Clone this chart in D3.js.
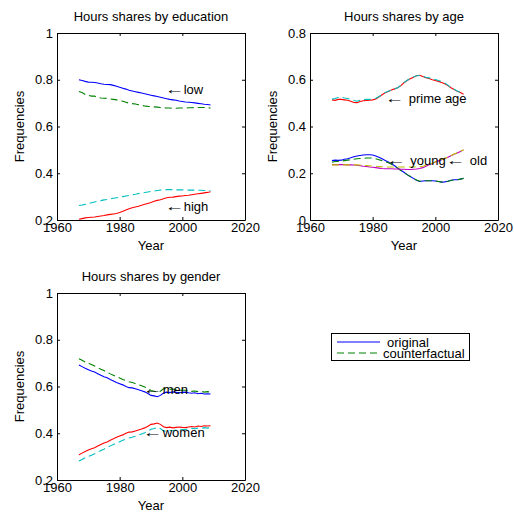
<!DOCTYPE html>
<html>
<head>
<meta charset="utf-8">
<script src="https://cdn.jsdelivr.net/npm/d3@7"></script>
<style>
  body { margin: 0; background: #fff; }
  text { font-family: "Liberation Sans", Arial, Helvetica, sans-serif; }
</style>
</head>
<body>
<svg id="fig" width="514" height="521"></svg>
<script>
// ---- data ----
const years = [1967, 1968, 1969, 1970, 1971, 1972, 1973, 1974, 1975, 1976, 1977,
  1978, 1979, 1980, 1981, 1982, 1983, 1984, 1985, 1986, 1987, 1988, 1989, 1990,
  1991, 1992, 1993, 1994, 1995, 1996, 1997, 1998, 1999, 2000, 2001, 2002, 2003,
  2004, 2005, 2006, 2007, 2008, 2009];

const xTicks = [1960, 1980, 2000, 2020];
const yTicksShare = [0.2, 0.4, 0.6, 0.8, 1];
const yTicksAge = [0, 0.2, 0.4, 0.6, 0.8];

// education
const lowOrig = [0.800, 0.797, 0.793, 0.790, 0.789, 0.788, 0.786, 0.783, 0.781, 0.780, 0.779,
  0.776, 0.772, 0.768, 0.764, 0.760, 0.755, 0.752, 0.749, 0.746, 0.743, 0.740, 0.737, 0.734,
  0.731, 0.728, 0.725, 0.722, 0.719, 0.716, 0.714, 0.712, 0.709, 0.707, 0.705, 0.704, 0.703,
  0.701, 0.699, 0.697, 0.695, 0.694, 0.692];
const lowCf = [0.750, 0.745, 0.737, 0.733, 0.730, 0.730, 0.724, 0.722, 0.721, 0.720, 0.718,
  0.716, 0.714, 0.711, 0.708, 0.704, 0.700, 0.698, 0.696, 0.693, 0.690, 0.688, 0.686, 0.685,
  0.684, 0.683, 0.681, 0.680, 0.679, 0.679, 0.678, 0.678, 0.679, 0.679, 0.679, 0.680, 0.680,
  0.681, 0.681, 0.681, 0.681, 0.680, 0.679];
const highOrig = [0.203, 0.206, 0.209, 0.211, 0.212, 0.213, 0.215, 0.217, 0.219, 0.222, 0.224,
  0.226, 0.228, 0.232, 0.237, 0.243, 0.248, 0.252, 0.256, 0.259, 0.263, 0.267, 0.271, 0.275,
  0.280, 0.284, 0.287, 0.291, 0.295, 0.297, 0.298, 0.300, 0.302, 0.303, 0.305, 0.306, 0.308,
  0.310, 0.312, 0.314, 0.316, 0.318, 0.321];
const highCf = [0.262, 0.264, 0.267, 0.270, 0.274, 0.277, 0.280, 0.283, 0.286, 0.288, 0.291,
  0.293, 0.295, 0.297, 0.300, 0.303, 0.305, 0.308, 0.310, 0.313, 0.315, 0.318, 0.320, 0.322,
  0.324, 0.326, 0.328, 0.329, 0.330, 0.330, 0.330, 0.329, 0.329, 0.329, 0.329, 0.328, 0.328,
  0.328, 0.327, 0.327, 0.326, 0.326, 0.325];

// age
const youngOrig = [0.254, 0.256, 0.255, 0.256, 0.260, 0.262, 0.266, 0.271, 0.274, 0.276, 0.278,
  0.279, 0.279, 0.278, 0.274, 0.268, 0.262, 0.255, 0.248, 0.240, 0.232, 0.222, 0.213, 0.204,
  0.194, 0.186, 0.178, 0.170, 0.165, 0.167, 0.168, 0.168, 0.168, 0.167, 0.165, 0.162, 0.163,
  0.166, 0.170, 0.172, 0.172, 0.175, 0.179];
const youngCf = [0.247, 0.250, 0.251, 0.252, 0.254, 0.256, 0.258, 0.260, 0.262, 0.263, 0.264,
  0.265, 0.265, 0.265, 0.262, 0.258, 0.254, 0.250, 0.245, 0.238, 0.230, 0.221, 0.212, 0.203,
  0.194, 0.186, 0.178, 0.171, 0.166, 0.167, 0.168, 0.168, 0.168, 0.167, 0.165, 0.162, 0.163,
  0.166, 0.169, 0.172, 0.172, 0.175, 0.178];
const primeOrig = [0.514, 0.512, 0.516, 0.516, 0.514, 0.512, 0.508, 0.503, 0.502, 0.507, 0.510,
  0.511, 0.512, 0.514, 0.518, 0.526, 0.536, 0.544, 0.550, 0.556, 0.561, 0.566, 0.575, 0.587,
  0.597, 0.604, 0.611, 0.617, 0.619, 0.614, 0.609, 0.605, 0.600, 0.597, 0.593, 0.588, 0.583,
  0.575, 0.566, 0.558, 0.551, 0.545, 0.538];
const primeCf = [0.517, 0.520, 0.524, 0.525, 0.522, 0.520, 0.516, 0.511, 0.508, 0.512, 0.515,
  0.516, 0.516, 0.518, 0.521, 0.528, 0.537, 0.545, 0.551, 0.556, 0.561, 0.566, 0.576, 0.588,
  0.598, 0.605, 0.612, 0.617, 0.618, 0.615, 0.611, 0.608, 0.604, 0.601, 0.597, 0.592, 0.586,
  0.577, 0.567, 0.559, 0.552, 0.545, 0.538];
const oldOrig = [0.237, 0.237, 0.237, 0.237, 0.237, 0.236, 0.236, 0.235, 0.234, 0.232, 0.230,
  0.229, 0.227, 0.226, 0.224, 0.222, 0.220, 0.219, 0.219, 0.219, 0.218, 0.218, 0.217, 0.217,
  0.216, 0.216, 0.217, 0.218, 0.220, 0.224, 0.230, 0.236, 0.242, 0.248, 0.253, 0.258, 0.263,
  0.268, 0.275, 0.281, 0.287, 0.293, 0.300];
const oldCf = [0.236, 0.236, 0.236, 0.236, 0.236, 0.236, 0.236, 0.236, 0.236, 0.235, 0.234,
  0.233, 0.232, 0.231, 0.230, 0.229, 0.228, 0.227, 0.227, 0.227, 0.227, 0.227, 0.227, 0.227,
  0.227, 0.227, 0.227, 0.227, 0.228, 0.230, 0.234, 0.238, 0.243, 0.249, 0.254, 0.259, 0.264,
  0.269, 0.276, 0.282, 0.288, 0.294, 0.300];

// gender
const menOrig = [0.692, 0.685, 0.678, 0.672, 0.666, 0.662, 0.655, 0.648, 0.642, 0.637, 0.630,
  0.624, 0.617, 0.612, 0.607, 0.600, 0.595, 0.594, 0.590, 0.586, 0.582, 0.577, 0.570, 0.562,
  0.560, 0.556, 0.562, 0.572, 0.576, 0.574, 0.577, 0.575, 0.573, 0.575, 0.576, 0.573, 0.571,
  0.573, 0.569, 0.571, 0.568, 0.569, 0.568];
const menCf = [0.719, 0.712, 0.705, 0.699, 0.694, 0.688, 0.681, 0.674, 0.668, 0.661, 0.654,
  0.648, 0.642, 0.636, 0.630, 0.625, 0.620, 0.617, 0.613, 0.608, 0.603, 0.598, 0.591, 0.583,
  0.580, 0.575, 0.580, 0.590, 0.592, 0.588, 0.589, 0.586, 0.583, 0.584, 0.584, 0.581, 0.579,
  0.581, 0.578, 0.579, 0.576, 0.578, 0.576];
const womenOrig = [0.308, 0.315, 0.322, 0.328, 0.334, 0.338, 0.345, 0.352, 0.358, 0.363, 0.370,
  0.376, 0.383, 0.388, 0.393, 0.400, 0.405, 0.406, 0.410, 0.414, 0.418, 0.423, 0.430, 0.438,
  0.440, 0.444, 0.438, 0.428, 0.424, 0.426, 0.423, 0.425, 0.427, 0.425, 0.424, 0.427, 0.429,
  0.427, 0.431, 0.429, 0.432, 0.431, 0.432];
const womenCf = [0.281, 0.288, 0.295, 0.301, 0.306, 0.312, 0.319, 0.326, 0.332, 0.339, 0.346,
  0.352, 0.358, 0.364, 0.370, 0.375, 0.380, 0.383, 0.387, 0.392, 0.397, 0.402, 0.409, 0.417,
  0.420, 0.425, 0.420, 0.410, 0.408, 0.412, 0.411, 0.414, 0.417, 0.416, 0.416, 0.419, 0.421,
  0.419, 0.422, 0.421, 0.424, 0.422, 0.424];

// annotation labels placed in data coordinates: [text, year, value]
const eduNotes = [["low", 1995, 0.757], ["high", 1995, 0.257]];
const ageNotes = [["prime age", 1984.5, 0.519], ["young", 1985, 0.254], ["old", 2004, 0.254]];
const genderNotes = [["men", 1988, 0.586], ["women", 1988, 0.403]];

const legendLabels = ["original", "counterfactual"];

// ---- styling ----
const C = {
  blue: "#0000ff", green: "#008000", red: "#ff0000",
  cyan: "#00bfbf", magenta: "#bf00bf", yellow: "#bfbf00"
};
const FONT = 13;

const panels = [
  {
    title: "Hours shares by education", box: [57, 33, 188, 187],
    yDomain: [0.2, 1], yTicks: yTicksShare, noteGap: 17, notes: eduNotes,
    series: [
      { v: lowOrig, c: C.blue }, { v: lowCf, c: C.green, dash: true },
      { v: highOrig, c: C.red }, { v: highCf, c: C.cyan, dash: true }
    ]
  },
  {
    title: "Hours shares by age", box: [310, 33, 188, 187],
    yDomain: [0, 0.8], yTicks: yTicksAge, noteGap: 22, notes: ageNotes,
    series: [
      { v: youngOrig, c: C.blue }, { v: youngCf, c: C.green, dash: true },
      { v: primeOrig, c: C.red }, { v: primeCf, c: C.cyan, dash: true },
      { v: oldOrig, c: C.magenta }, { v: oldCf, c: C.yellow, dash: true }
    ]
  },
  {
    title: "Hours shares by gender", box: [57, 293, 188, 187],
    yDomain: [0.2, 1], yTicks: yTicksShare, noteGap: 18, notes: genderNotes,
    series: [
      { v: menOrig, c: C.blue }, { v: menCf, c: C.green, dash: true },
      { v: womenOrig, c: C.red }, { v: womenCf, c: C.cyan, dash: true }
    ]
  }
];

const svg = d3.select("#fig");
svg.append("rect").attr("width", 514).attr("height", 521).attr("fill", "#fff");

panels.forEach(p => {
  const [left, top, w, h] = p.box;
  const x = d3.scaleLinear().domain([1960, 2020]).range([0, w]);
  const y = d3.scaleLinear().domain(p.yDomain).range([h, 0]);
  const g = svg.append("g").attr("transform", `translate(${left},${top})`);

  // series
  const line = d3.line().x((d, i) => x(years[i])).y(d => y(d));
  p.series.forEach(s => {
    g.append("path")
      .datum(s.v)
      .attr("d", line)
      .attr("fill", "none")
      .attr("stroke", s.c)
      .attr("stroke-width", 1.1)
      .attr("stroke-dasharray", s.dash ? "7,4" : null);
  });

  // axes: inward ticks on all four sides, labels bottom and left
  const tick = 3;
  const styleAxis = sel => {
    sel.attr("font-size", FONT).attr("font-family", '"Liberation Sans", Arial, sans-serif');
    sel.selectAll("path.domain").attr("stroke", "#000");
    sel.selectAll("line").attr("stroke", "#000");
    sel.selectAll("text").attr("fill", "#000");
  };
  g.append("g").attr("transform", `translate(0,${h})`)
    .call(d3.axisBottom(x).tickValues(xTicks).tickFormat(d3.format("d"))
      .tickSizeInner(-tick).tickSizeOuter(0).tickPadding(3))
    .call(styleAxis);
  g.append("g")
    .call(d3.axisTop(x).tickValues(xTicks).tickFormat("")
      .tickSizeInner(-tick).tickSizeOuter(0))
    .call(styleAxis);
  g.append("g")
    .call(d3.axisLeft(y).tickValues(p.yTicks).tickFormat(d => String(d))
      .tickSizeInner(-tick).tickSizeOuter(0).tickPadding(4))
    .call(styleAxis);
  g.append("g").attr("transform", `translate(${w},0)`)
    .call(d3.axisRight(y).tickValues(p.yTicks).tickFormat("")
      .tickSizeInner(-tick).tickSizeOuter(0))
    .call(styleAxis);

  // title and axis labels
  g.append("text").attr("x", w / 2).attr("y", -12)
    .attr("text-anchor", "middle").attr("font-size", FONT).text(p.title);
  g.append("text").attr("x", w / 2).attr("y", h + 30)
    .attr("text-anchor", "middle").attr("font-size", FONT).text("Year");
  g.append("text")
    .attr("transform", `translate(-33,${h / 2}) rotate(-90)`)
    .attr("text-anchor", "middle").attr("font-size", FONT).text("Frequencies");

  // arrow annotations: a horizontally widened left arrow followed by the label
  p.notes.forEach(([label, yr, val]) => {
    g.append("text")
      .attr("transform", `translate(${x(yr) - 2},${y(val)}) scale(1.4,1)`)
      .attr("dy", "0.3em")
      .attr("font-size", 14).attr("font-family", '"DejaVu Sans", sans-serif')
      .text("\u2190");
    g.append("text").attr("x", x(yr) + p.noteGap).attr("y", y(val)).attr("dy", "0.35em")
      .attr("font-size", FONT).text(label);
  });
});

// legend
const lg = svg.append("g").attr("transform", "translate(331,333)");
lg.append("rect").attr("x", 0.5).attr("y", 0.5).attr("width", 138).attr("height", 27)
  .attr("fill", "#fff").attr("stroke", "#000");
const legendStyles = [{ c: C.blue, dash: null }, { c: C.green, dash: "7,4" }];
legendLabels.forEach((lab, i) => {
  const yy = 9 + i * 11;
  lg.append("line").attr("x1", 6).attr("x2", 49).attr("y1", yy).attr("y2", yy)
    .attr("stroke", legendStyles[i].c).attr("stroke-dasharray", legendStyles[i].dash);
  lg.append("text").attr("x", i === 0 ? 56 : 52).attr("y", yy).attr("dy", "0.35em")
    .attr("font-size", FONT).text(lab);
});
</script>
</body>
</html>
